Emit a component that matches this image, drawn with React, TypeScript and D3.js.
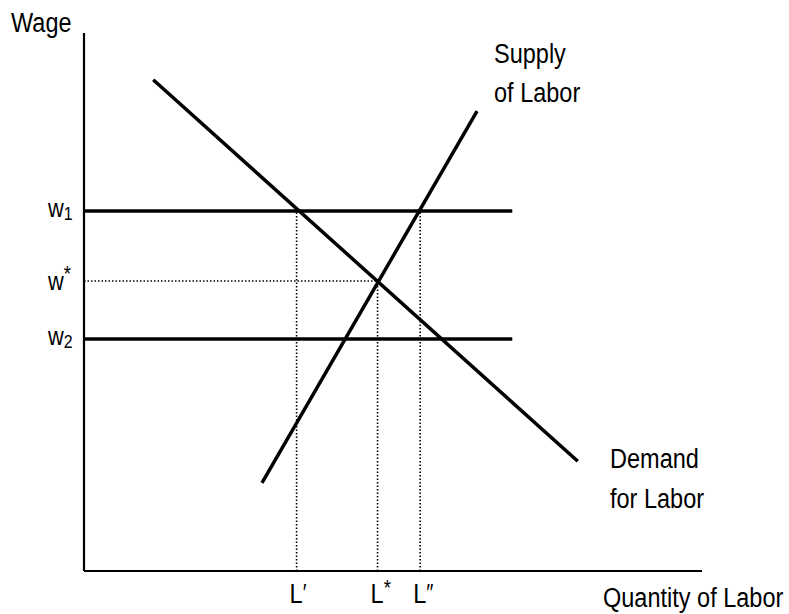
import React from "react";
import * as d3 from "d3";

const demandPts = [
  { q: 11.2, w: 91.3 },
  { q: 79.9, w: 20.4 },
];
const supplyPts = [
  { q: 28.8, w: 16.4 },
  { q: 63.6, w: 85.5 },
];
const wageLevels = [
  { key: "w1", sub: "1", sup: "", value: 66.9, solid: true },
  { key: "wstar", sub: "", sup: "*", value: 53.9, solid: false },
  { key: "w2", sub: "2", sup: "", value: 43.1, solid: true },
];
const laborLevels = [
  { label: "L", mark: "\u2032", value: 34.4, upTo: 66.9 },
  { label: "L", mark: "*", value: 47.5, upTo: 53.9 },
  { label: "L", mark: "\u2033", value: 54.4, upTo: 66.9 },
];
const wageLineEnd = 69.3;

const W = 789;
const H = 614;
const FONT = "'Liberation Sans', Arial, sans-serif";
const SX = 0.84;

function NText({ x, y, size = 28, children }: { x: number; y: number; size?: number; children: React.ReactNode }) {
  return (
    <text transform={`translate(${x},${y}) scale(${SX},1)`} fontSize={size} fill="#000" fontFamily={FONT}>
      {children}
    </text>
  );
}

export default function App() {
  const x = d3.scaleLinear().domain([0, 100]).range([84, 702]);
  const y = d3.scaleLinear().domain([0, 100]).range([571, 33]);
  const line = d3
    .line<{ q: number; w: number }>()
    .x((d) => x(d.q))
    .y((d) => y(d.w));

  return (
    <svg
      width={W}
      height={H}
      style={{ position: "absolute", left: 0, top: 0, background: "#fff" }}
    >
      {/* axes */}
      <line x1={x(0)} y1={y(100)} x2={x(0)} y2={y(0)} stroke="#000" strokeWidth={2.2} />
      <line x1={x(0)} y1={y(0)} x2={x(100)} y2={y(0)} stroke="#000" strokeWidth={2.2} />

      {/* dotted guides */}
      {laborLevels.map((l, i) => (
        <line
          key={"lv" + i}
          x1={x(l.value)}
          x2={x(l.value)}
          y1={y(0)}
          y2={y(l.upTo)}
          stroke="#000"
          strokeWidth={1.6}
          strokeDasharray="1.5,2"
        />
      ))}
      {wageLevels
        .filter((w) => !w.solid)
        .map((w) => (
          <line
            key={"wd" + w.key}
            x1={x(0)}
            x2={x(laborLevels[1].value)}
            y1={y(w.value)}
            y2={y(w.value)}
            stroke="#000"
            strokeWidth={1.6}
            strokeDasharray="1.5,2"
          />
        ))}

      {/* solid wage lines */}
      {wageLevels
        .filter((w) => w.solid)
        .map((w) => (
          <line
            key={"ws" + w.key}
            x1={x(0)}
            x2={x(wageLineEnd)}
            y1={y(w.value)}
            y2={y(w.value)}
            stroke="#000"
            strokeWidth={3.5}
          />
        ))}

      {/* curves */}
      <path d={line(demandPts) || ""} stroke="#000" strokeWidth={3.5} fill="none" />
      <path d={line(supplyPts) || ""} stroke="#000" strokeWidth={3.5} fill="none" />

      {/* wage labels */}
      {wageLevels.map((w) => (
        <NText key={"wl" + w.key} x={48} y={y(w.value) + (w.sup ? 9 : 6)} size={26}>
          w
          {w.sub && (
            <tspan fontSize={19} dy={3}>
              {w.sub}
            </tspan>
          )}
          {w.sup && (
            <tspan fontSize={22} dy={-9}>
              {w.sup}
            </tspan>
          )}
        </NText>
      ))}

      {/* labor labels */}
      {laborLevels.map((l, i) => (
        <NText key={"ll" + i} x={x(l.value) - 7} y={603}>
          {l.label}
          <tspan fontSize={l.mark === "*" ? 22 : 24} dy={l.mark === "*" ? -8 : -2}>
            {l.mark}
          </tspan>
        </NText>
      ))}

      <NText x={11} y={32}>Wage</NText>
      <NText x={603} y={607}>Quantity of Labor</NText>

      <NText x={494} y={63}>Supply</NText>
      <NText x={494} y={102}>of Labor</NText>

      <NText x={610} y={468}>Demand</NText>
      <NText x={610} y={508}>for Labor</NText>
    </svg>
  );
}
